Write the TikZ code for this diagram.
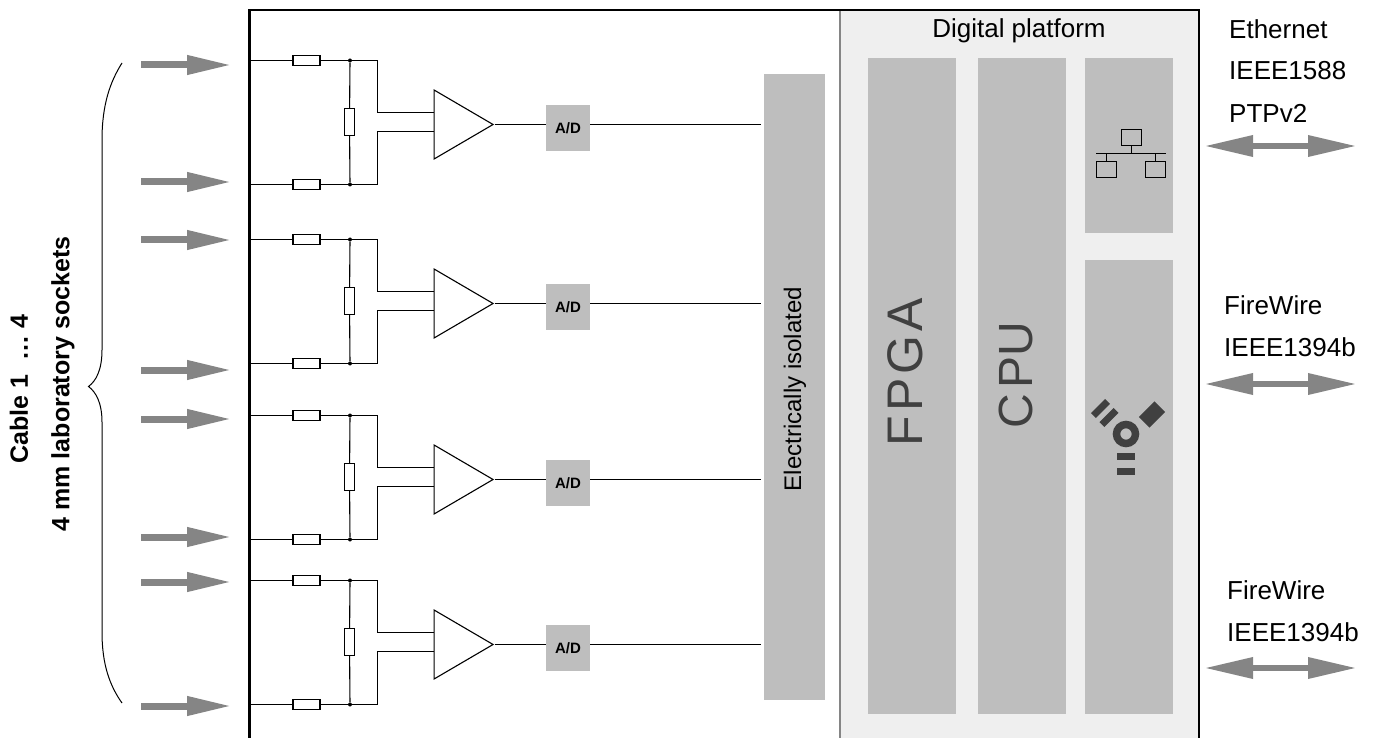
\documentclass[tikz,border=0pt]{standalone}
\usepackage{fontspec}
\setmainfont{Liberation Sans}
\usetikzlibrary{shapes.geometric,arrows.meta,positioning,calc}
\definecolor{panelgray}{HTML}{EFEFEF}
\definecolor{blockgray}{HTML}{BEBEBE}
\definecolor{arrowgray}{HTML}{858585}
\definecolor{icongray}{HTML}{404040}
\newfontfamily\spacedfont[LetterSpace=8]{Liberation Sans}

\begin{document}
\begin{tikzpicture}[x=1pt, y=-1pt,
    resh/.style={rectangle, draw, fill=white, line width=1.4pt, inner sep=0pt, minimum width=27pt, minimum height=9.5pt},
    resv/.style={rectangle, draw, fill=white, line width=1.1pt, inner sep=0pt, minimum width=9.5pt, minimum height=27pt},
    amp/.style={isosceles triangle, isosceles triangle stretches, draw, line width=1.1pt, inner sep=0pt, minimum width=69pt, minimum height=59pt},
    adc/.style={rectangle, fill=blockgray, inner sep=0pt, minimum width=44pt, minimum height=46pt, font=\bfseries\fontsize{15}{15}\selectfont},
    block/.style={rectangle, fill=blockgray, inner sep=0pt},
    label/.style={anchor=west, inner sep=0pt, font=\fontsize{26}{26}\selectfont},
    side/.style={rotate=90, inner sep=0pt, font=\bfseries\fontsize{25}{25}\selectfont},
    wire/.style={line width=1.1pt},
    dot/.style={circle, fill=black, inner sep=0pt, minimum size=4pt},
    inarrow/.style={arrowgray, line width=7pt, -{Triangle[length=45pt,width=18pt]}},
    ioarrow/.style={arrowgray, line width=6.5pt, {Triangle[length=49pt,width=20pt]}-{Triangle[length=49pt,width=20pt]}},
    netbox/.style={rectangle, draw, line width=1.5pt, inner sep=0pt, minimum width=20pt, minimum height=16pt},
    fwbar/.style={rectangle, fill=icongray, inner sep=0pt}]

    \useasboundingbox (0,0) rectangle (1374,738);

    \fill [panelgray] (840,10) rectangle (1199,738);
    \draw [arrowgray, line width=1.6pt] (840,10) -- (840,738);
    \draw [line width=2.4pt] (249.5,738) -- (249.5,10) -- (1199,10) -- (1199,738);

    \node [font=\fontsize{26}{26}\selectfont] (digital) at (1019,31) {Digital platform};
    \node [block, minimum width=88pt, minimum height=656pt] (fpga) at (912,386) {};
    \node [block, minimum width=88pt, minimum height=656pt] (cpu) at (1022,386) {};
    \node [block, minimum width=88pt, minimum height=175pt] (netblock) at (1129,145.5) {};
    \node [block, minimum width=88pt, minimum height=454pt] (fwblock) at (1129,487) {};
    \node [block, minimum width=61pt, minimum height=626pt] (iso) at (794.5,387) {};
    \node [rotate=90, font=\fontsize{24}{24}\selectfont] (isotext) at (795,389) {Electrically isolated};
    \node [rotate=90, text=icongray, font=\spacedfont\fontsize{50}{50}\selectfont] (fpgatext) at (905,372) {FPGA};
    \node [rotate=90, text=icongray, font=\fontsize{48}{48}\selectfont] (cputext) at (1016,375) {C\kern5pt PU};

    \foreach \i/\off in {1/0,2/179,3/355,4/520} {
        \begin{scope}[shift={(0,\off)}]
            \coordinate (topin\i) at (249.5,60.5);
            \coordinate (botin\i) at (249.5,184.5);
            \node [resh] (rtop\i) at (306.5,60.5) {};
            \node [resh] (rbot\i) at (306.5,184.5) {};
            \node [dot] (jtop\i) at (350,60.5) {};
            \node [dot] (jbot\i) at (350,184.5) {};
            \node [resv] (rmid\i) at (349.5,122) {};
            \coordinate (ctop\i) at (377.5,60.5);
            \coordinate (cbot\i) at (377.5,184.5);
            \coordinate (ampa\i) at (434,112.5);
            \coordinate (ampb\i) at (434,131.5);
            \node [amp, anchor=apex] (amp\i) at (494.5,124.5) {};
            \node [adc] (ad\i) at (568,128) {A/D};

            \draw [wire] (topin\i) -- (rtop\i) -- (jtop\i) -- (ctop\i) |- (ampa\i);
            \draw [wire] (botin\i) -- (rbot\i) -- (jbot\i) -- (cbot\i) |- (ampb\i);
            \draw [wire] (jtop\i) -- (rmid\i) -- (jbot\i);
            \draw [wire] (amp\i.apex) -- (amp\i.apex -| ad\i.west);
            \draw [wire, shorten >=3pt] (amp\i.apex -| ad\i.east) -- (amp\i.apex -| iso.west);
        \end{scope}
    }

    \foreach \name/\y in {a/65,b/182,c/240,d/370,e/419,f/537,g/582,h/706} {
        \coordinate (from\name) at (141,\y);
        \coordinate (to\name) at (232,\y);
        \draw [inarrow] (from\name) -- (to\name);
    }

    \foreach \name/\y in {eth/146,fwa/384,fwb/668} {
        \coordinate (\name l) at (1204,\y);
        \coordinate (\name r) at (1357,\y);
        \draw [ioarrow] (\name l) -- (\name r);
    }

    \node [label] (eth) at (1229,29) {Ethernet};
    \node [label] (ptpa) at (1229,71) {IEEE1588};
    \node [label] (ptpb) at (1229,113) {PTPv2};
    \node [label] (fwa) at (1224,305) {FireWire};
    \node [label] (fwaa) at (1224,347) {IEEE1394b};
    \node [label] (fwb) at (1227,590) {FireWire};
    \node [label] (fwbb) at (1227,632) {IEEE1394b};

    \node [side] (cable) at (19,389) {Cable 1 \ … 4};
    \node [side] (socket) at (63,384) {4 mm laboratory sockets};
    \draw [line width=1pt] (122,63) .. controls (110,82) and (102,105) .. (102,140)
        -- (102,350) .. controls (102,370) and (96,381) .. (88.5,386.5)
        .. controls (96,392) and (102,403) .. (102,422)
        -- (102,632) .. controls (102,665) and (110,686) .. (122,703);

    \node [netbox] (nettop) at (1131.5,137.5) {};
    \node [netbox] (netleft) at (1106.5,169.5) {};
    \node [netbox] (netright) at (1155.5,169.5) {};
    \coordinate (busl) at (1096,153.5);
    \coordinate (busr) at (1165.5,153.5);
    \draw [line width=1.5pt] (busl) -- (busr);
    \draw [line width=1.5pt] (nettop) -- (nettop |- busl);
    \draw [line width=1.5pt] (netleft) -- (netleft |- busl);
    \draw [line width=1.5pt] (netright) -- (netright |- busl);

    \node [circle, draw=icongray, line width=7.5pt, inner sep=0pt, minimum size=19pt] (fwring) at (1126,434) {};
    \node [fwbar, minimum width=18pt, minimum height=7pt] (fwbara) at (1126,456.5) {};
    \node [fwbar, minimum width=18pt, minimum height=7pt] (fwbarb) at (1126,471.5) {};
    \node [fwbar, rotate=45, minimum width=22pt, minimum height=15pt] (fwdiamond) at (1152,414.5) {};
    \node [fwbar, rotate=45, minimum width=20pt, minimum height=7pt] (fwbarc) at (1100.5,408.5) {};
    \node [fwbar, rotate=45, minimum width=20pt, minimum height=7pt] (fwbard) at (1109,417.5) {};
\end{tikzpicture}
\end{document}
